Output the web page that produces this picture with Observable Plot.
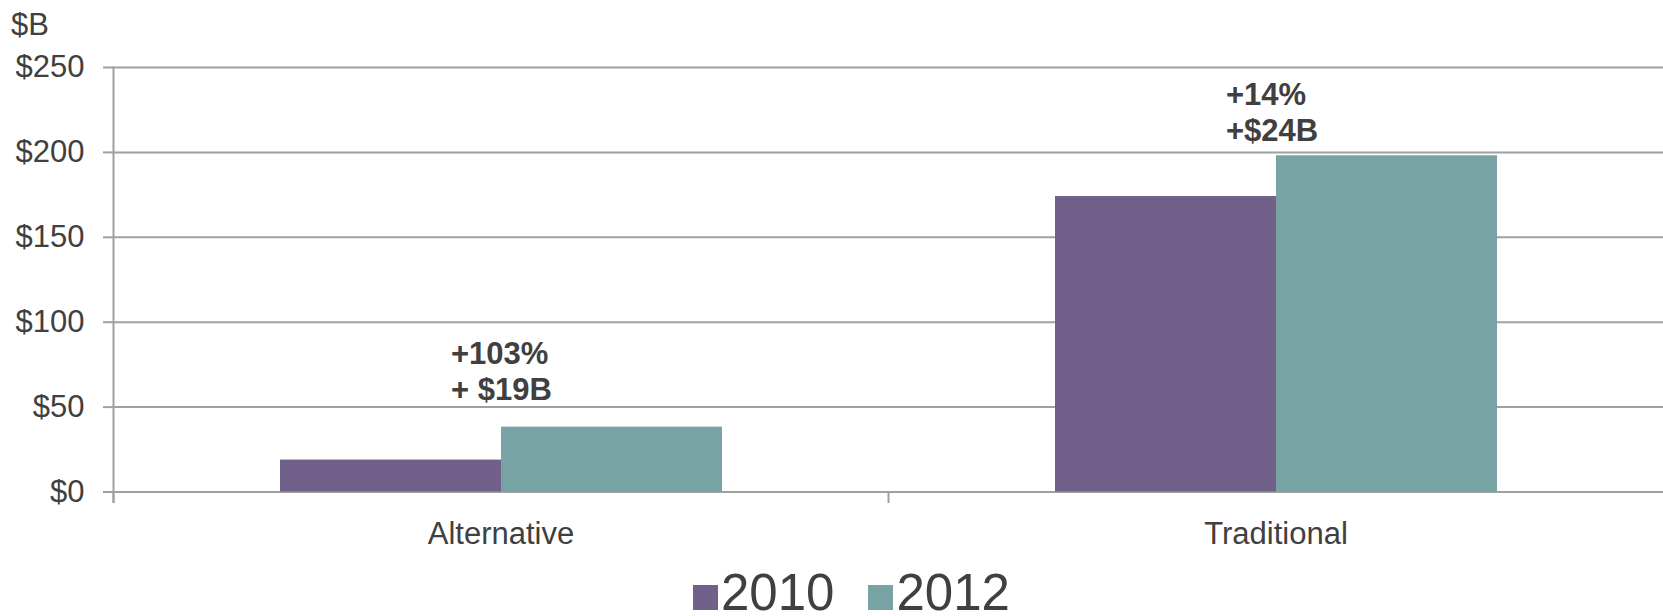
<!DOCTYPE html>
<html>
<head>
<meta charset="utf-8">
<script src="https://cdn.jsdelivr.net/npm/d3@7"></script>
<script src="https://cdn.jsdelivr.net/npm/@observablehq/plot@0.6"></script>
<style>
  html, body { margin: 0; padding: 0; background: #fff; }
  body { width: 1663px; height: 616px; overflow: hidden; font-family: "Liberation Sans", Arial, sans-serif; color: #404040; }
  #unit { height: 40px; font-size: 31px; line-height: 50px; padding-left: 11px; white-space: nowrap; overflow: visible; }
  #legend { height: 50px; padding-top: 2px; box-sizing: border-box; font-size: 51px; line-height: 50px; padding-left: 693px; white-space: nowrap; }
  #legend .item { display: inline-block; margin-right: 34px; }
  #legend .sw { display: inline-block; width: 25px; height: 25px; margin-right: 3px; vertical-align: baseline; }
</style>
</head>
<body>
<div id="unit">$B</div>
<div id="chart"></div>
<div id="legend"></div>
<script>
const categories = ["Alternative", "Traditional"];
const years = ["2010", "2012"];
const values2010 = [18.8, 174];
const values2012 = [38.2, 198];
const yTicks = [0, 50, 100, 150, 200, 250];
const annotationText = ["+103%\n+ $19B", "+14%\n+$24B"];
const annotationY = [54, 206.5];
const colors = ["#716089", "#77A3A5"];

const data = categories.flatMap((c, i) => [
  {category: c, year: years[0], value: values2010[i]},
  {category: c, year: years[1], value: values2012[i]}
]);
const annotations = categories.map((c, i) => ({category: c, y: annotationY[i], text: annotationText[i]}));

const H = 526, MT = 27, MB = 74.5;
const plotH = H - MT - MB;
const gray = "#a0a0a0";

const chart = Plot.plot({
  width: 1663,
  height: H,
  marginTop: MT,
  marginLeft: 112,
  marginRight: 0,
  marginBottom: MB,
  style: {fontFamily: "'Liberation Sans', Arial, sans-serif", fontSize: "31px", color: "#404040", background: "white"},
  fx: {domain: categories, padding: 0, label: null},
  x: {domain: years, paddingInner: 0, paddingOuter: 0.75, axis: null},
  y: {domain: [0, 250], label: null},
  color: {domain: years, range: colors},
  marks: [
    Plot.gridY(yTicks, {stroke: gray, strokeOpacity: 1, strokeWidth: 2}),
    Plot.barY(data, {fx: "category", x: "year", y: "value", fill: "year"}),
    Plot.frame({anchor: "left", facetAnchor: "left", insetBottom: -10, stroke: gray, strokeWidth: 2}),
    Plot.frame({anchor: "left", insetTop: plotH, insetBottom: -10, stroke: gray, strokeWidth: 2}),
    Plot.axisY(yTicks, {tickSize: 10, tickPadding: 19, tickFormat: d => "$" + d, stroke: gray, strokeWidth: 2, fill: "#404040", label: null}),
    Plot.axisFx({anchor: "bottom", tickSize: 0, tickPadding: 29.5, label: null, fill: "#404040"}),
    Plot.text(annotations, {fx: "category", y: "y", text: "text", textAnchor: "start", lineAnchor: "bottom", dx: -50, fontWeight: "bold", lineHeight: 1.16, fill: "#404040"})
  ]
});
document.getElementById("chart").appendChild(chart);

const legend = document.getElementById("legend");
years.forEach((y, i) => {
  const item = document.createElement("span");
  item.className = "item";
  const sw = document.createElement("span");
  sw.className = "sw";
  sw.style.background = colors[i];
  item.appendChild(sw);
  item.appendChild(document.createTextNode(y));
  legend.appendChild(item);
});
</script>
</body>
</html>
